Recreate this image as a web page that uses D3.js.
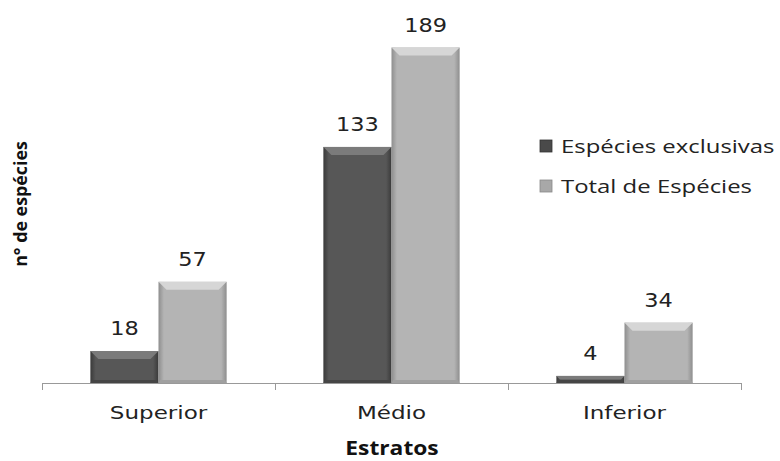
<!DOCTYPE html>
<html>
<head>
<meta charset="utf-8">
<script src="https://cdn.jsdelivr.net/npm/d3@7"></script>
<style>
  body { margin: 0; background: #fff; }
</style>
</head>
<body>
<div id="container"></div>
<script>

// data
const categories = ["Superior", "Médio", "Inferior"];
const seriesNames = ["Espécies exclusivas", "Total de Espécies"];
const exclusivas = [18, 133, 4];
const total = [57, 189, 34];

const width = 780;
const height = 461;

const svg = d3.select("#container").append("svg")
    .attr("width", width)
    .attr("height", height);

const defs = svg.append("defs");

// gradients for the bevelled look
function sideGradient(id, edge, mid) {
  const g = defs.append("linearGradient").attr("id", id)
    .attr("x1", "0%").attr("x2", "100%").attr("y1", "0%").attr("y2", "0%");
  g.append("stop").attr("offset", "0%").attr("stop-color", edge);
  g.append("stop").attr("offset", "8%").attr("stop-color", mid);
  g.append("stop").attr("offset", "92%").attr("stop-color", mid);
  g.append("stop").attr("offset", "100%").attr("stop-color", edge);
}
sideGradient("gDark", "#3a3a3a", "#575757");
sideGradient("gLight", "#8e8e8e", "#b4b4b4");

const colors = [
  { fill: "url(#gDark)", top: "#7b7b7b", bottom: "#454545", legend: "#4a4a4a" },
  { fill: "url(#gLight)", top: "#d6d6d6", bottom: "#a0a0a0", legend: "#a8a8a8" }
];

// the original text is stretched sideways, so scale it in x
function stretchedText(parent, tx, ty, sx, anchor) {
  return parent.append("text")
    .attr("transform", `translate(${tx},${ty}) scale(${sx},1)`)
    .attr("text-anchor", anchor || "middle");
}

// scales
const x = d3.scaleBand().domain(categories).range([42, 741]);
const xs = d3.scaleBand().domain(seriesNames).range([0, x.bandwidth()]).paddingOuter(0.71).paddingInner(0);
const y = d3.scaleLinear().domain([0, 200]).range([383, 28]);

const rows = categories.map((c, i) => ({ cat: c, values: [exclusivas[i], total[i]] }));

// bars
rows.forEach(r => {
  r.values.forEach((v, s) => {
    const x0 = x(r.cat) + xs(seriesNames[s]);
    const w = xs.bandwidth();
    const y0 = y(v);
    const h = y(0) - y0;
    const b = Math.min(8, h / 2);
    const c = colors[s];
    const g = svg.append("g");
    g.append("rect")
      .attr("x", x0).attr("y", y0)
      .attr("width", w).attr("height", h)
      .attr("fill", c.fill);
    // top bevel
    g.append("polygon")
      .attr("points", [[x0, y0], [x0 + w, y0], [x0 + w - b, y0 + b], [x0 + b, y0 + b]].map(p => p.join(",")).join(" "))
      .attr("fill", c.top);
    // bottom shade
    g.append("polygon")
      .attr("points", [[x0, y0 + h], [x0 + w, y0 + h], [x0 + w - 2, y0 + h - 3], [x0 + 2, y0 + h - 3]].map(p => p.join(",")).join(" "))
      .attr("fill", c.bottom);
    // value label
    stretchedText(svg, x0 + w / 2, y0 - 16, 1.18)
      .attr("font-family", "DejaVu Sans")
      .attr("font-size", 19)
      .attr("fill", "#222")
      .text(v);
  });
});

// x axis
const axis = svg.append("g");
axis.append("line")
  .attr("x1", x.range()[0]).attr("x2", x.range()[1])
  .attr("y1", y(0) + 0.5).attr("y2", y(0) + 0.5)
  .attr("stroke", "#999");
const bounds = categories.map(c => x(c)).concat([x.range()[1]]);
axis.selectAll(".tick").data(bounds).enter().append("line")
  .attr("x1", d => Math.round(d) + 0.5).attr("x2", d => Math.round(d) + 0.5)
  .attr("y1", y(0)).attr("y2", y(0) + 7)
  .attr("stroke", "#999");
categories.forEach(c => {
  stretchedText(axis, x(c) + x.bandwidth() / 2, 419, 1.28)
    .attr("font-family", "DejaVu Sans")
    .attr("font-size", 18)
    .attr("fill", "#222")
    .text(c);
});

// axis titles
stretchedText(svg, 392, 455, 1.2)
  .attr("font-family", "Open Sans")
  .attr("font-weight", "bold")
  .attr("font-size", 19)
  .attr("fill", "#111")
  .text("Estratos");

svg.append("text")
  .attr("transform", "translate(27,204) rotate(-90) scale(1.05,1)")
  .attr("text-anchor", "middle")
  .attr("font-family", "Open Sans")
  .attr("font-weight", "bold")
  .attr("font-size", 17)
  .attr("fill", "#111")
  .text("n° de espécies");

// legend
const legend = svg.append("g");
seriesNames.forEach((name, i) => {
  const ly = 146 + i * 40;
  legend.append("rect")
    .attr("x", 540).attr("y", ly - 6)
    .attr("width", 12).attr("height", 12)
    .attr("fill", colors[i].legend)
    .attr("stroke", i === 0 ? "#333" : "#888")
    .attr("stroke-width", 0.8);
  stretchedText(legend, 561, ly + 7, 1.33, "start")
    .attr("font-family", "Open Sans")
    .attr("font-size", 18)
    .attr("fill", "#222")
    .text(name);
});

</script>
</body>
</html>
